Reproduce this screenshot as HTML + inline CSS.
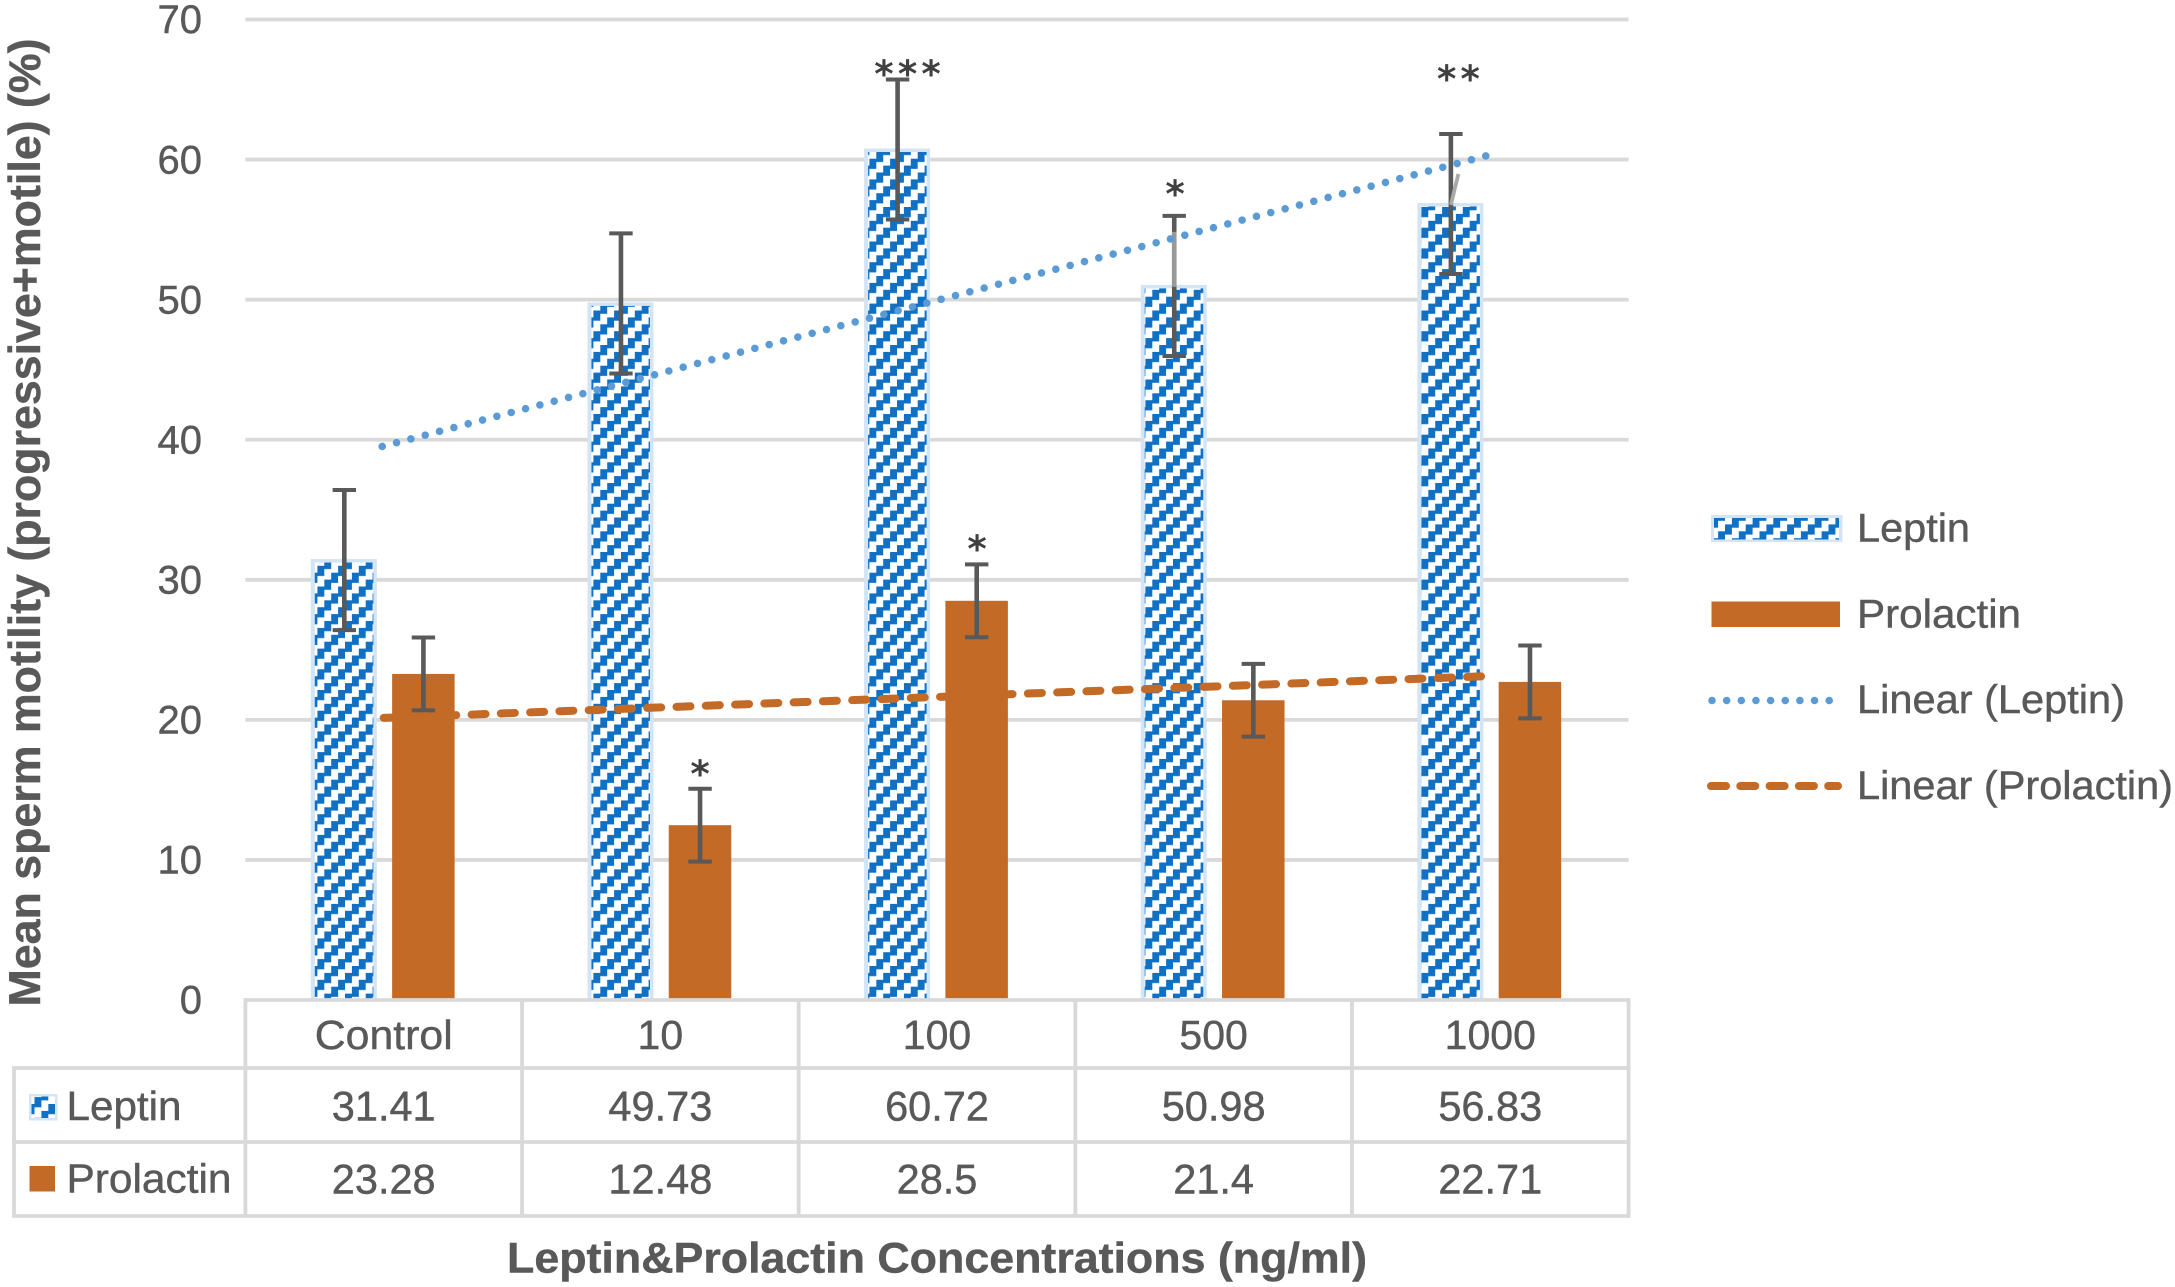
<!DOCTYPE html>
<html lang="en">
<head>
<meta charset="utf-8">
<title>Mean sperm motility by Leptin and Prolactin concentration</title>
<style>
html,body{margin:0;padding:0;background:#fff;}
svg{display:block;}
text{font-family:"Liberation Sans",sans-serif;fill:#595959;stroke:#595959;stroke-width:0.45px;}
text.star{font-family:"DejaVu Sans",sans-serif;font-weight:bold;fill:#404040;stroke:none;font-size:37px;}
</style>
</head>
<body>
<svg id="chart" xmlns="http://www.w3.org/2000/svg" width="2175" height="1287" viewBox="0 0 2175 1287">
  <defs>
    <pattern id="wideDiag" patternUnits="userSpaceOnUse" x="0" y="0" width="20.7" height="20.7">
      <rect x="0" y="0" width="20.7" height="20.7" fill="#ffffff"/>
      <rect x="0" y="13.8" width="6.9" height="6.9" fill="#1070c4"/>
      <rect x="0" y="0" width="6.9" height="3.3" fill="#1070c4"/>
      <rect x="6.9" y="6.9" width="6.9" height="10.2" fill="#1070c4"/>
      <rect x="13.8" y="0" width="6.9" height="10.2" fill="#1070c4"/>
    </pattern>
  </defs>
  <rect x="0" y="0" width="2175" height="1287" fill="#ffffff"/>
  <g id="grid"></g>
  <g id="bars"></g>
  <g id="errors"></g>
  <g id="trends"></g>
  <g id="table"></g>

  <g>
    <text class="star" x="700" y="787" text-anchor="middle">*</text>
    <text class="star" x="977" y="562" text-anchor="middle">*</text>
    <text class="star" x="874.3" y="87" letter-spacing="4.2">***</text>
    <text class="star" x="1175" y="207" text-anchor="middle">*</text>
    <text class="star" x="1437" y="92" letter-spacing="4.2">**</text>
  </g>

  <text transform="translate(40,1006.5) rotate(-90)" x="0" y="0" textLength="968" lengthAdjust="spacingAndGlyphs" style="font-size:44.5px;font-weight:bold">Mean sperm motility (progressive+motile) (%)</text>
  <text x="507" y="1272.5" textLength="860" lengthAdjust="spacingAndGlyphs" style="font-size:43px;font-weight:bold">Leptin&amp;Prolactin Concentrations (ng/ml)</text>

  <g>
    <g>
      <rect x="1711" y="515" width="131.5" height="27" fill="#d3e4f5"/>
      <rect x="1714" y="518" width="125" height="21.5" fill="url(#wideDiag)"/>
      <text x="1857" y="541.5" textLength="113" lengthAdjust="spacingAndGlyphs" style="font-size:40px">Leptin</text>
    </g>
    <g>
      <rect x="1711.5" y="601.5" width="128.5" height="25.5" fill="#c46a27"/>
      <text x="1857" y="627.5" textLength="164" lengthAdjust="spacingAndGlyphs" style="font-size:40px">Prolactin</text>
    </g>
    <g>
      <line x1="1712" y1="700.5" x2="1832" y2="700.5" stroke="#5b9bd5" stroke-width="7.6" stroke-linecap="round" stroke-dasharray="0 14.65"/>
      <text x="1857" y="713" textLength="268" lengthAdjust="spacingAndGlyphs" style="font-size:40px">Linear (Leptin)</text>
    </g>
    <g>
      <line x1="1711" y1="786" x2="1838" y2="786" stroke="#c46a27" stroke-width="8" stroke-linecap="round" stroke-dasharray="15 14.3"/>
      <text x="1857" y="799" textLength="316" lengthAdjust="spacingAndGlyphs" style="font-size:40px">Linear (Prolactin)</text>
    </g>
  </g>
</svg>
<script>
const categories = ['Control', '10', '100', '500', '1000'];
const leptinValues = [31.41, 49.73, 60.72, 50.98, 56.83];
const prolactinValues = [23.28, 12.48, 28.5, 21.4, 22.71];
const leptinLabels = ['31.41', '49.73', '60.72', '50.98', '56.83'];
const prolactinLabels = ['23.28', '12.48', '28.5', '21.4', '22.71'];
const leptinErrors = [5, 5, 5, 5, 5];
const prolactinErrors = [2.6, 2.6, 2.6, 2.6, 2.6];
const leptinTrend = [39.52, 60.36];
const prolactinTrend = [20.14, 23.13];
const yTicks = [0, 10, 20, 30, 40, 50, 60, 70];

const NS = 'http://www.w3.org/2000/svg';
const plotLeft = 245.4, plotRight = 1628.6, plotBottom = 1000, unitPx = 14.007;
const catWidth = (plotRight - plotLeft) / categories.length;
const GRID = '#d9d9d9', ORANGE = '#c46a27', ERR = '#595959';

function yScale(v) { return plotBottom - v * unitPx; }
function catCenter(i) { return plotLeft + catWidth * (i + 0.5); }
function leptinX(i) { return catCenter(i) - 39.4; }
function prolactinX(i) { return catCenter(i) + 39.7; }

function make(tag, attrs, parent) {
  const el = document.createElementNS(NS, tag);
  for (const k in attrs) el.setAttribute(k, attrs[k]);
  parent.appendChild(el);
  return el;
}

const gridG = document.getElementById('grid');
const barsG = document.getElementById('bars');
const errG = document.getElementById('errors');
const trendG = document.getElementById('trends');
const tableG = document.getElementById('table');

yTicks.forEach(function (t) {
  if (t > 0) {
    const g = make('line', {x1: plotLeft, x2: plotRight, y1: yScale(t), y2: yScale(t), stroke: GRID, 'stroke-width': 3.8}, gridG);
    
    
  }
  const lab = make('text', {x: 202, y: yScale(t) + 13.7, 'text-anchor': 'end', style: 'font-size:40px'}, gridG);
  lab.textContent = String(t);
  
  
});

categories.forEach(function (c, i) {
  const lx = leptinX(i), px = prolactinX(i);
  const ly = yScale(leptinValues[i]), py = yScale(prolactinValues[i]);

  const border = make('rect', {x: lx - 33.5, y: ly - 1, width: 66, height: plotBottom - ly + 1, fill: '#d3e4f5'}, barsG);
  
  

  const bar = make('rect', {x: lx - 29.5, y: ly + 2.5, width: 58.5, height: plotBottom - ly - 2.5, fill: 'url(#wideDiag)'}, barsG);
  
  

  const pbar = make('rect', {x: px - 31.3, y: py, width: 62.5, height: plotBottom - py, fill: ORANGE}, barsG);
  
  

  [[lx, leptinValues[i], leptinErrors[i], 'leptin'], [px, prolactinValues[i], prolactinErrors[i], 'prolactin']].forEach(function (s) {
    const top = yScale(s[1] + s[2]), bot = yScale(s[1] - s[2]);
    const stem = make('line', {x1: s[0], x2: s[0], y1: top, y2: bot, stroke: ERR, 'stroke-width': 4.6}, errG);
    
    
    const capT = make('line', {x1: s[0] - 11.7, x2: s[0] + 11.7, y1: top, y2: top, stroke: ERR, 'stroke-width': 4}, errG);
    
    
    const capB = make('line', {x1: s[0] - 11.7, x2: s[0] + 11.7, y1: bot, y2: bot, stroke: ERR, 'stroke-width': 4}, errG);
    
    
  });
});

/* pale leader segments above the 500 and 1000 Leptin bars */
const leader500 = make('line', {x1: leptinX(3), x2: leptinX(3), y1: yScale(leptinValues[3]) + 1, y2: yScale(leptinValues[3]) - 54, stroke: '#999999', 'stroke-width': 4.6}, errG);


const leader1000 = make('line', {x1: leptinX(4), x2: leptinX(4) + 7.5, y1: yScale(leptinValues[4]) + 1, y2: yScale(leptinValues[4]) - 30, stroke: '#aaaaaa', 'stroke-width': 3.8}, errG);



const trendLast = categories.length - 1;
const tL = make('line', {x1: catCenter(0) - 1.5, y1: yScale(leptinTrend[0]), x2: catCenter(trendLast) + 1, y2: yScale(leptinTrend[1]), stroke: '#5b9bd5', 'stroke-width': 7.6, 'stroke-linecap': 'round', 'stroke-dasharray': '0 14.82'}, trendG);


const tP = make('line', {x1: catCenter(0), y1: yScale(prolactinTrend[0]), x2: catCenter(trendLast), y2: yScale(prolactinTrend[1]), stroke: ORANGE, 'stroke-width': 8, 'stroke-linecap': 'round', 'stroke-dasharray': '14 15.3'}, trendG);



/* data table */
const rowY = [1000, 1068, 1142, 1216];
const tableLeft = 14;
rowY.forEach(function (y, r) {
  const hl = make('line', {x1: r === 0 ? plotLeft - 1.9 : tableLeft - 1.9, x2: plotRight + 1.9, y1: y, y2: y, stroke: GRID, 'stroke-width': 3.8}, tableG);
  
  
});
for (let i = 0; i <= categories.length; i++) {
  const x = plotLeft + catWidth * i;
  const vl = make('line', {x1: x, x2: x, y1: 1000, y2: 1216, stroke: GRID, 'stroke-width': 3.8}, tableG);
  
  
}
const leftEdge = make('line', {x1: tableLeft, x2: tableLeft, y1: 1068, y2: 1216, stroke: GRID, 'stroke-width': 3.8}, tableG);



categories.forEach(function (c, i) {
  const cx = catCenter(i);
  const h = make('text', {x: cx, y: 1049, 'text-anchor': 'middle', style: 'font-size:41px'}, tableG);
  if (c === 'Control') { h.setAttribute('textLength', '138'); h.setAttribute('lengthAdjust', 'spacingAndGlyphs'); }
  h.textContent = c;
  
  
  const a = make('text', {x: cx, y: 1120.5, 'text-anchor': 'middle', style: 'font-size:41.5px'}, tableG);
  a.textContent = leptinLabels[i];
  
  
  const b = make('text', {x: cx, y: 1193.5, 'text-anchor': 'middle', style: 'font-size:41.5px'}, tableG);
  b.textContent = prolactinLabels[i];
  
  
});

const keyB = make('rect', {x: 29, y: 1094, width: 28.5, height: 26.5, fill: '#d3e4f5'}, tableG);


const keyL = make('rect', {x: 31.5, y: 1096.5, width: 23.5, height: 21.5, fill: 'url(#wideDiag)'}, tableG);


const keyP = make('rect', {x: 29.5, y: 1166, width: 25.5, height: 25.5, fill: ORANGE}, tableG);


const rowL = make('text', {x: 66.5, y: 1120, textLength: 115, lengthAdjust: 'spacingAndGlyphs', style: 'font-size:41px'}, tableG);
rowL.textContent = 'Leptin';


const rowP = make('text', {x: 66.5, y: 1192.5, textLength: 165, lengthAdjust: 'spacingAndGlyphs', style: 'font-size:41px'}, tableG);
rowP.textContent = 'Prolactin';


</script>
</body>
</html>
